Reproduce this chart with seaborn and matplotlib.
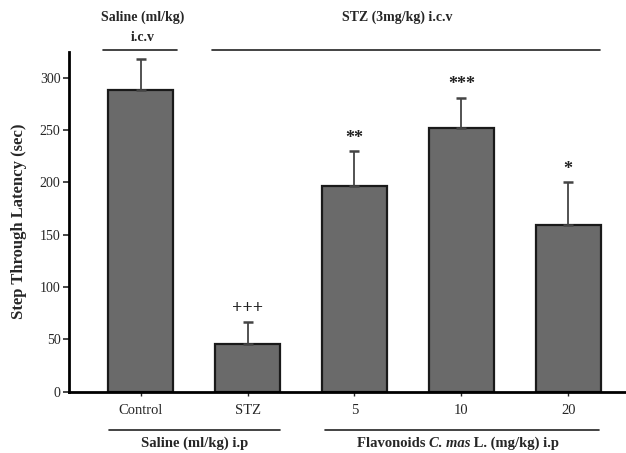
import matplotlib
matplotlib.use("Agg")
import matplotlib.pyplot as plt
import matplotlib.transforms as mtransforms
from matplotlib.lines import Line2D
import seaborn as sns
import pandas as pd
import numpy as np

groups = ["Control", "STZ", "5", "10", "20"]
latency = [288, 46, 197, 252, 159]
sem = [30, 21, 33, 29, 41]
marks = ["", "+++", "**", "***", "*"]

sns.set_theme(style="white")
plt.rcParams["font.family"] = ["Liberation Serif", "DejaVu Serif"]

fig = plt.figure(figsize=(6.26, 4.53), dpi=100)
ax = fig.add_axes([0.110, 0.1353, 0.888, 0.7507])

df = pd.DataFrame({"group": groups, "latency": latency})
sns.barplot(data=df, x="group", y="latency", order=groups, color="#6a6a6a",
            saturation=1, width=0.61, errorbar=None, edgecolor="#1a1a1a",
            linewidth=1.6, ax=ax)

xpos = np.arange(len(groups))
ax.errorbar(xpos, latency, yerr=[np.zeros(len(sem)), sem], fmt="none",
            ecolor="#444444", elinewidth=1.3, capsize=3.5, capthick=1.8, zorder=3)

for x, v, s, m in zip(xpos, latency, sem, marks):
    if m:
        ax.text(x, v + s + 4, m, ha="center", va="bottom", fontsize=13,
                color="#222222", fontweight="bold")

ax.set_ylim(0, 325)
ax.set_xlim(-0.674, 4.53)
ax.set_yticks([0, 50, 100, 150, 200, 250, 300])
ax.tick_params(axis="y", direction="out", length=4, width=1.2, labelsize=10, pad=2, left=True)
ax.tick_params(axis="x", direction="out", length=3, width=1.0, labelsize=10.5, pad=6, bottom=True)
ax.set_xlabel("")
ax.set_ylabel("Step Through Latency (sec)", fontsize=12, fontweight="bold", labelpad=9)
sns.despine(ax=ax)
ax.spines["left"].set_linewidth(2)
ax.spines["bottom"].set_linewidth(2)
ax.spines["left"].set_color("black")
ax.spines["bottom"].set_color("black")

trans = mtransforms.blended_transform_factory(ax.transData, fig.transFigure)

def hline(x0, x1, y):
    fig.add_artist(Line2D([x0, x1], [y, y], transform=trans, color="#222222", lw=1.2, clip_on=False))

# top group lines and labels
hline(-0.356, 0.337, 0.890)
hline(0.665, 4.30, 0.890)
ax.text(0.02, 0.962, "Saline (ml/kg)", transform=trans, ha="center", va="center",
        fontsize=10, fontweight="bold")
ax.text(0.02, 0.918, "i.c.v", transform=trans, ha="center", va="center",
        fontsize=10, fontweight="bold")
ax.text(2.4, 0.962, "STZ (3mg/kg) i.c.v", transform=trans, ha="center", va="center",
        fontsize=10, fontweight="bold")

# bottom group lines and labels
hline(-0.30, 1.30, 0.0508)
hline(1.72, 4.29, 0.0508)
ax.text(0.5, 0.022, "Saline (ml/kg) i.p", transform=trans, ha="center", va="center",
        fontsize=10.5, fontweight="bold")

# mixed-style label: "Flavonoids " + italic "C. mas" + " L. (mg/kg) i.p"
parts = [("Flavonoids ", "normal"), ("C. mas", "italic"), (" L. (mg/kg) i.p", "normal")]
renderer = fig.canvas.get_renderer()
texts = []
for s, st in parts:
    t = fig.text(0, 0.022, s, ha="left", va="center", fontsize=10.5,
                 fontweight="bold", fontstyle=st)
    texts.append(t)
widths = [t.get_window_extent(renderer).width for t in texts]
total = sum(widths)
cx = trans.transform((2.97, 0))[0]
x0 = cx - total / 2
figw = fig.bbox.width
for t, w in zip(texts, widths):
    t.set_x(x0 / figw)
    x0 += w

fig.savefig("out.png", dpi=100)
